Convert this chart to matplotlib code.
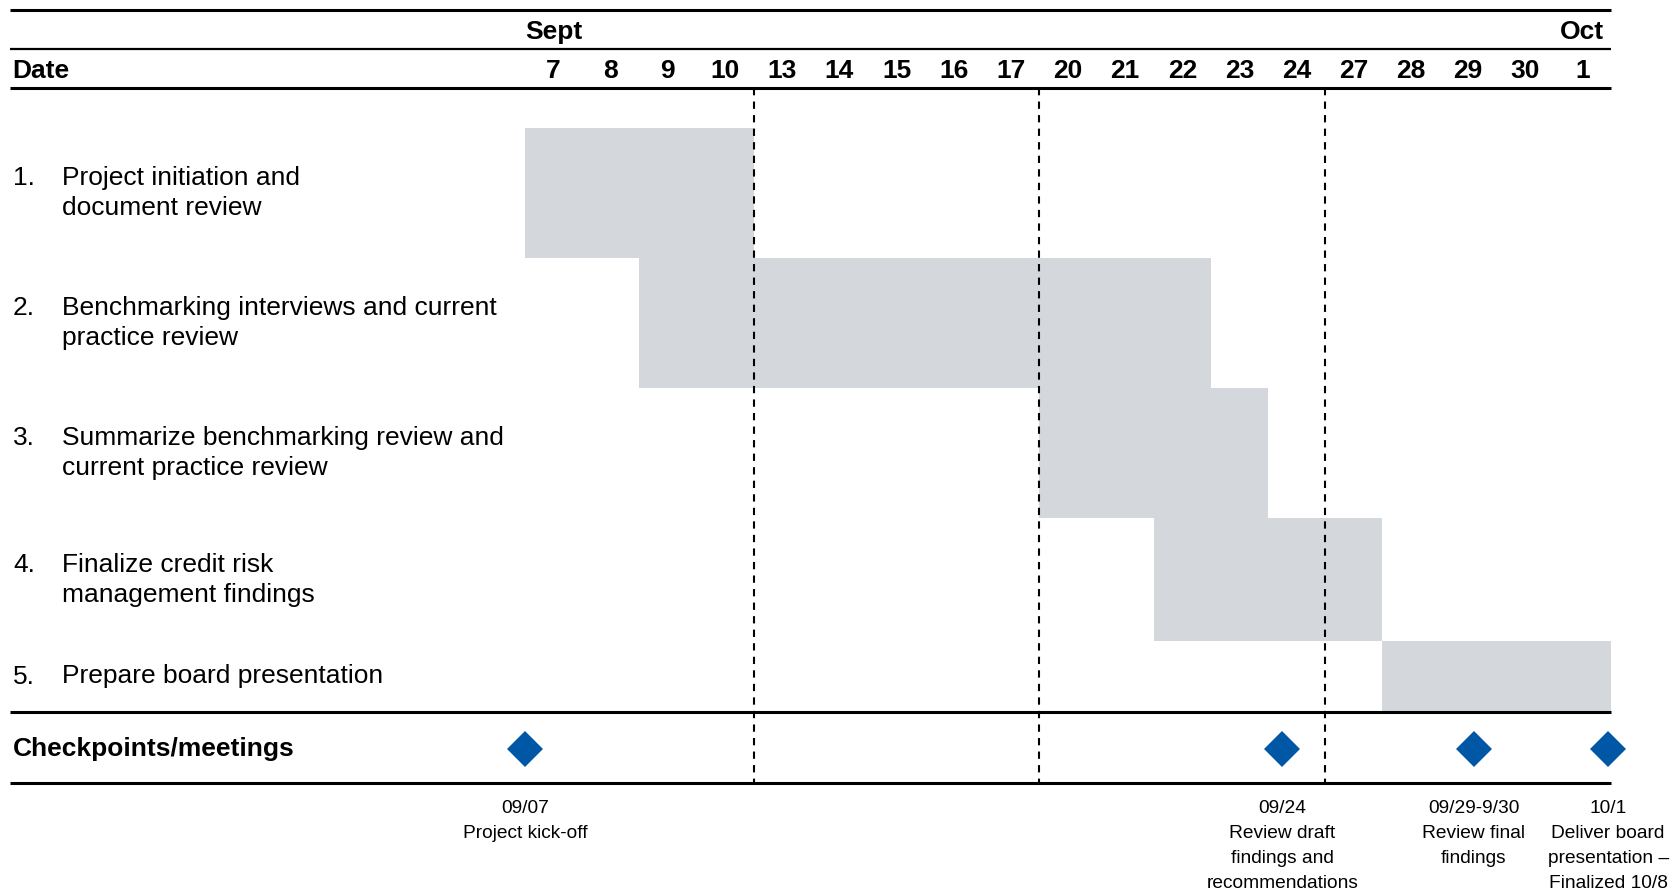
import matplotlib.pyplot as plt

plt.rcParams['font.family'] = ['Liberation Sans', 'DejaVu Sans']

# Working days shown in the timeline header
days = ['7', '8', '9', '10', '13', '14', '15', '16', '17',
        '20', '21', '22', '23', '24', '27', '28', '29', '30', '1']
months = ['Sept', 'Oct']
month_first_day = ['7', '1']

tasks = ['Project initiation and\ndocument review',
         'Benchmarking interviews and current\npractice review',
         'Summarize benchmarking review and\ncurrent practice review',
         'Finalize credit risk\nmanagement findings',
         'Prepare board presentation']
task_start = ['7', '9', '20', '22', '28']
task_end = ['10', '22', '23', '27', '1']

# dashed separators go after the last day of each week
week_ends = ['10', '17', '24']

# checkpoint positions on the day axis (0 = start of Sept 7)
milestone_at = [0.0, 13.25, 16.6, 18.95]
milestone_labels = ['09/07\nProject kick-off',
                    '09/24\nReview draft\nfindings and\nrecommendations',
                    '09/29-9/30\nReview final\nfindings',
                    '10/1\nDeliver board\npresentation \u2013\nFinalized 10/8']

# page layout in pixels
W, H = 1680, 896
grid_left, grid_right = 525, 1611
col = (grid_right - grid_left) / len(days)
row_edges = [128, 258, 388, 518.5, 641, 712]


def px(p):
    return (p - grid_left) / col


fig = plt.figure(figsize=(W / 100, H / 100), dpi=100)
ax = fig.add_axes([0, 0, 1, 1])
ax.set_xlim(px(0), px(W))
ax.set_ylim(H, 0)
ax.axis('off')

bar_color = '#D4D8DD'
diamond_color = '#0057A6'
fs = 19

# task bars and their labels
for i, (s, e) in enumerate(zip(task_start, task_end)):
    i0 = days.index(s)
    i1 = days.index(e) + 1
    top, bot = row_edges[i], row_edges[i + 1]
    yc = (top + bot) / 2
    ax.barh(yc, i1 - i0, left=i0, height=bot - top,
            color=bar_color, linewidth=0, zorder=1)
    n_lines = tasks[i].count('\n') + 1
    # pad the number with blank lines so it sits on the first text line
    ax.text(px(13), yc, f'{i + 1}.' + '\n ' * (n_lines - 1), fontsize=fs,
            va='center', ha='left', linespacing=1.33)
    ax.text(px(62), yc, tasks[i], fontsize=fs,
            va='center', ha='left', linespacing=1.33)

# horizontal rules
x_a, x_b = px(10), len(days)
for y, lw in [(10, 2.2), (49, 1.6), (88, 2.2), (712, 2.2), (783, 2.2)]:
    ax.plot([x_a, x_b], [y, y], color='black', lw=lw, zorder=3,
            solid_capstyle='butt')

# week separators
for d in week_ends:
    xb = days.index(d) + 1
    ax.plot([xb, xb], [88, 783], color='black', lw=1.5,
            linestyle=(0, (3.5, 3)), zorder=2)

# header
for m, d in zip(months, month_first_day):
    ax.text(days.index(d) + 0.5, 32, m, fontsize=fs, fontweight='bold',
            ha='center', va='center')
ax.text(px(12), 71, 'Date', fontsize=fs, fontweight='bold',
        ha='left', va='center')
for i, d in enumerate(days):
    ax.text(i + 0.5, 71, d, fontsize=fs, fontweight='bold',
            ha='center', va='center')

# checkpoints
ax.text(px(13), 749, 'Checkpoints/meetings', fontsize=fs,
        fontweight='bold', ha='left', va='center')
ax.plot(milestone_at, [749] * len(milestone_at), 'D', ms=18.8,
        color=diamond_color, mew=0, zorder=4)
for x, lab in zip(milestone_at, milestone_labels):
    ax.text(x, 800, lab, fontsize=13.8, ha='center', va='top',
            linespacing=1.62)

fig.savefig('out.png', dpi=100)
